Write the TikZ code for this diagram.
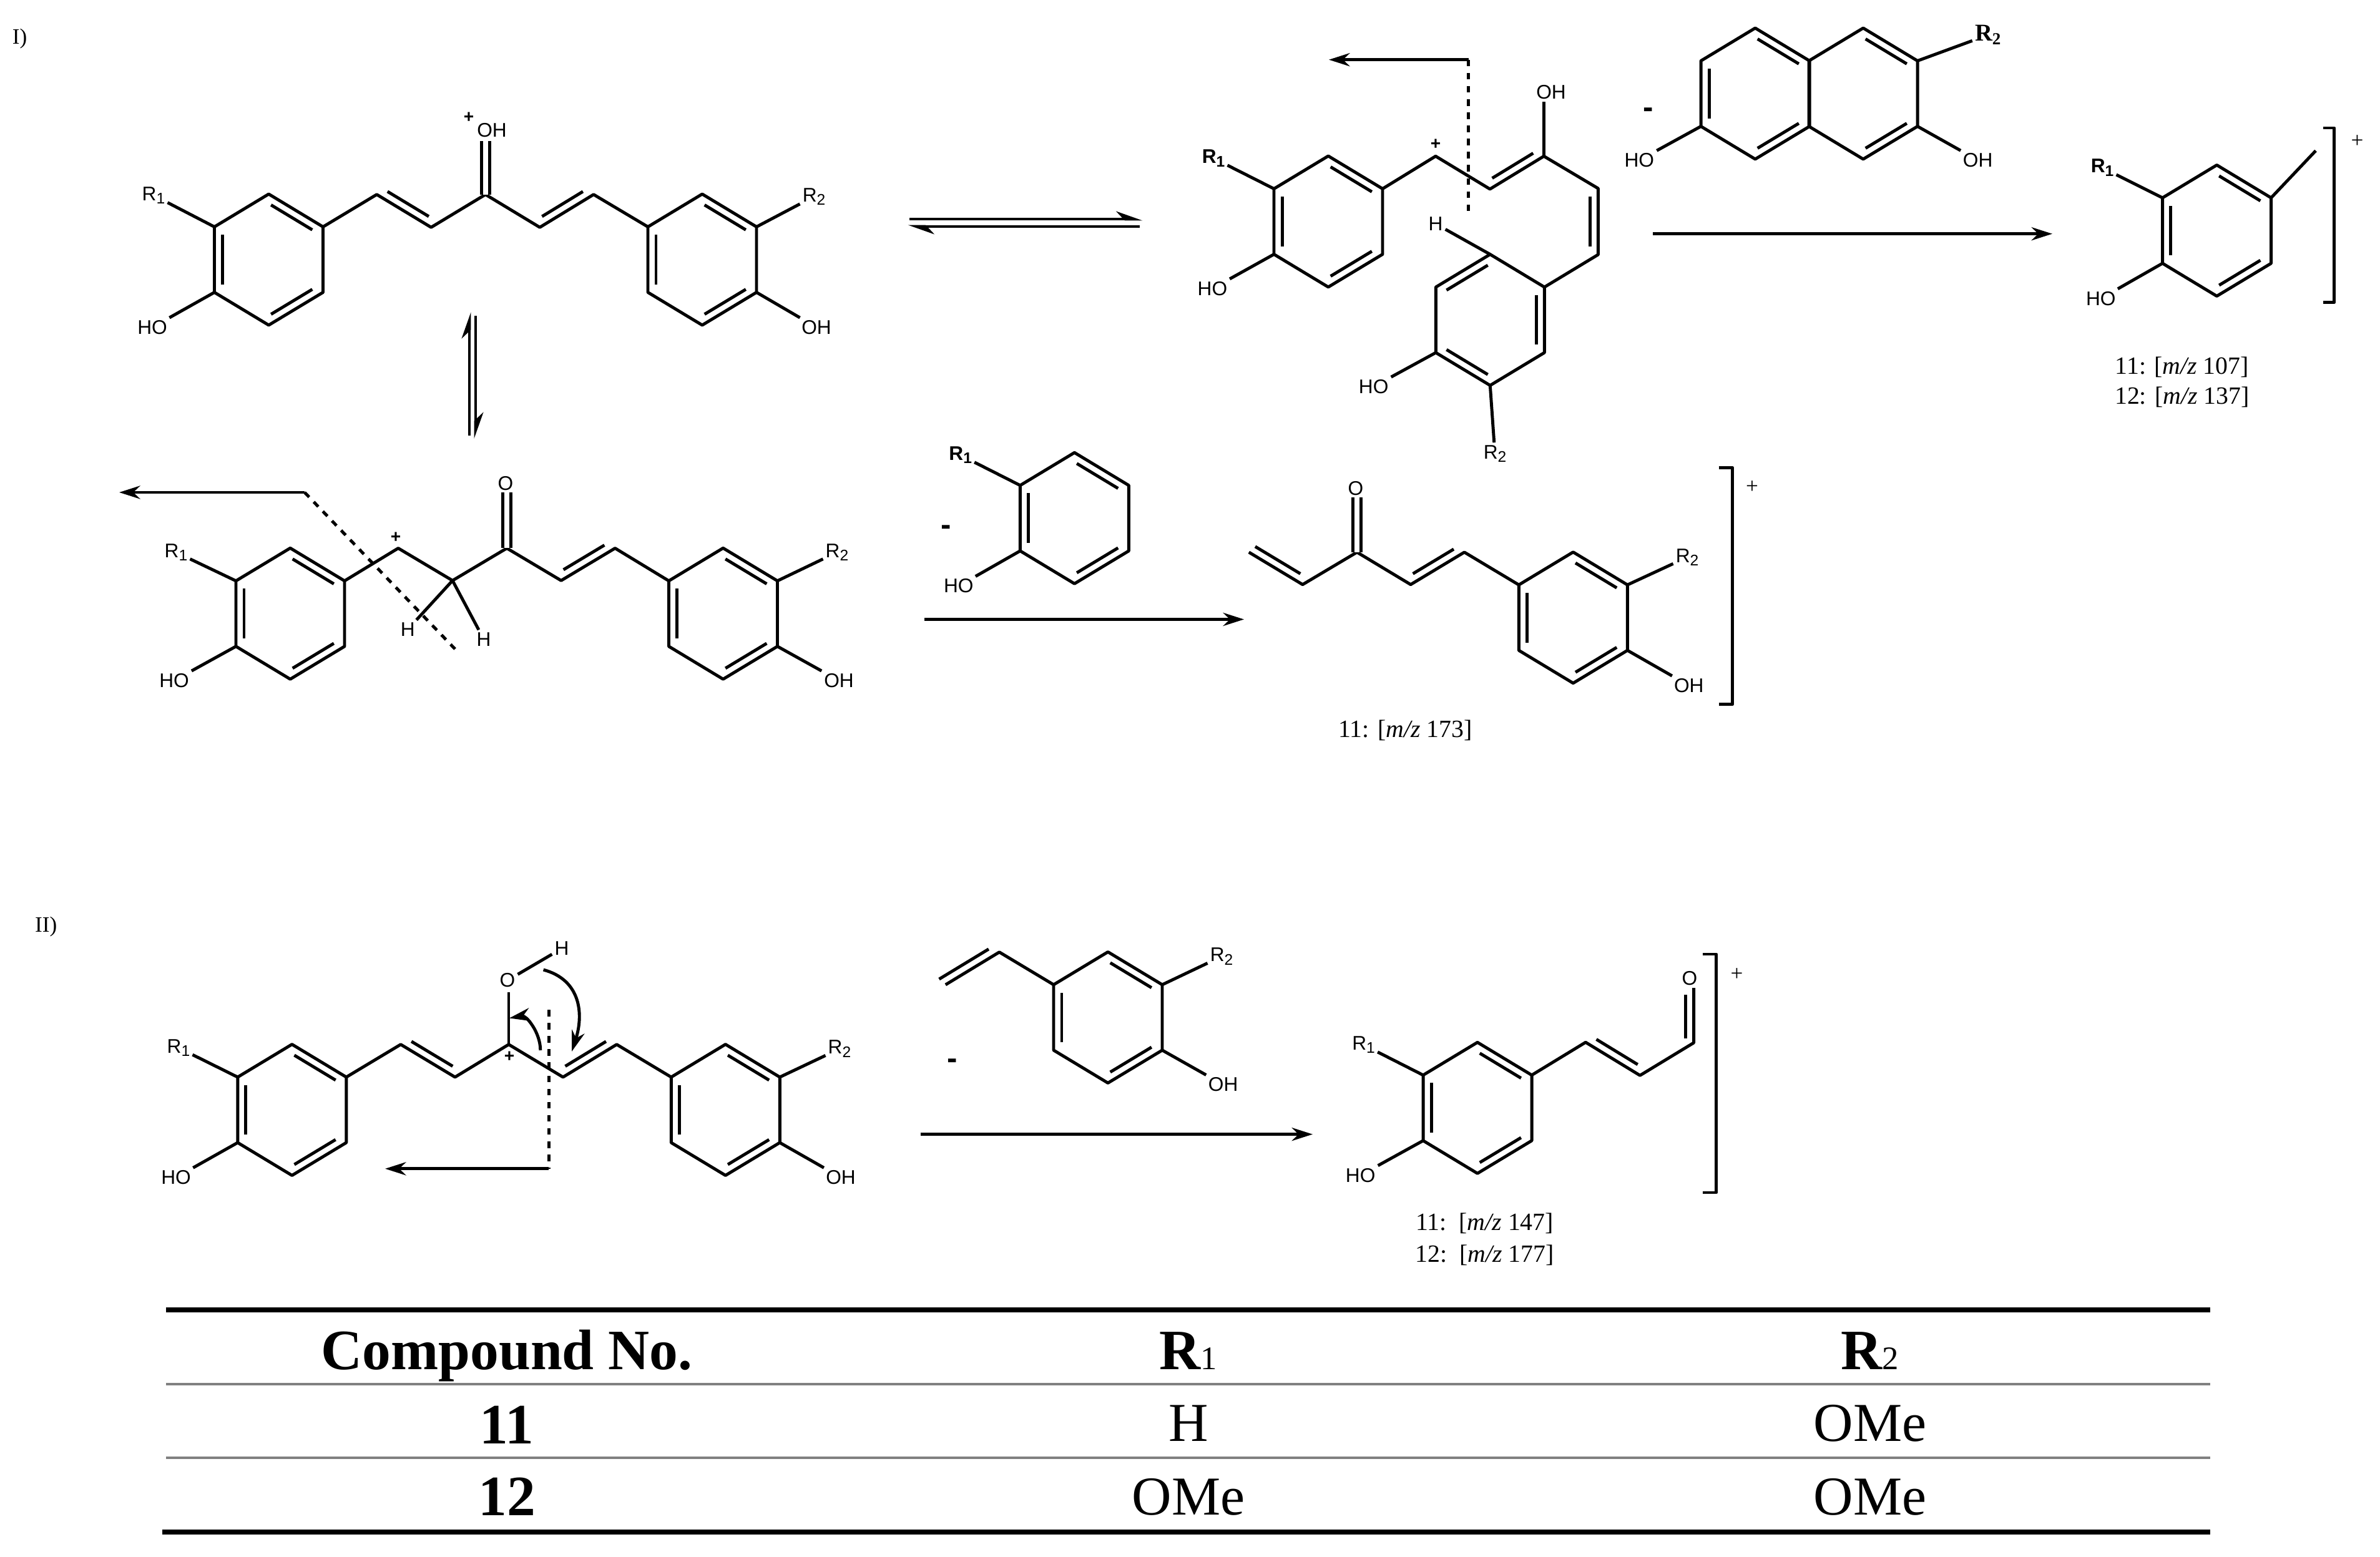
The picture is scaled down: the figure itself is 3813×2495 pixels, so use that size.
\documentclass[tikz,border=0pt]{standalone}
\usepackage{fontspec}
\setmainfont{Liberation Serif}
\setsansfont{Liberation Sans}
\usetikzlibrary{calc,arrows.meta}

\newcommand{\dbl}[4][.12]{\draw[bond] ($(#2)!#1!(#3)!#4!90:(#3)$) -- ($(#2)!.88!(#3)!#4!90:(#3)$);}
\newcommand{\ring}[4][1/2,3/4,5/6]{%
  \coordinate (#21) at (#3,#4-105);
  \coordinate (#22) at (#3+87,#4-52.5);
  \coordinate (#23) at (#3+87,#4+52.5);
  \coordinate (#24) at (#3,#4+105);
  \coordinate (#25) at (#3-87,#4+52.5);
  \coordinate (#26) at (#3-87,#4-52.5);
  \draw[bond] (#21) -- (#22) -- (#23) -- (#24) -- (#25) -- (#26) -- cycle;
  \foreach \p/\q in {#1} {\dbl{#2\p}{#2\q}{-.13cm}}
}
\newcommand{\rsub}[1]{R\raisebox{-.32ex}{\fontsize{7}{7}\selectfont #1}}

\begin{document}
\begin{tikzpicture}[x=0.01cm,y=-0.01cm]

%
% Styles
%
\tikzstyle{bond}   = [line width=1.4pt,line join=round]
\tikzstyle{cobond} = [double,double distance=2.3pt,line width=1.4pt]
\tikzstyle{cut}    = [line width=1.4pt,dashed]
\tikzstyle{edge}   = [->,>={Stealth[length=9.5pt,width=6pt]},line width=1.4pt]
\tikzstyle{eqm}    = [-{Stealth[harpoon,length=10pt,width=7pt]},line width=1.4pt]
\tikzstyle{atom}   = [font=\sffamily\fontsize{9}{10}\selectfont,inner sep=1pt]
\tikzstyle{ratom}  = [font=\sffamily\bfseries\fontsize{9}{10}\selectfont,inner sep=1pt]
\tikzstyle{charge} = [font=\sffamily\bfseries\fontsize{8}{10}\selectfont,inner sep=0pt]
\tikzstyle{minus}  = [font=\sffamily\bfseries\fontsize{14}{14}\selectfont,inner sep=0pt]
\tikzstyle{plain}  = [font=\fontsize{10}{10}\selectfont,inner sep=0pt]
\tikzstyle{mz}     = [font=\fontsize{11.3}{12}\selectfont,inner sep=0pt]
\tikzstyle{head}   = [font=\bfseries\fontsize{26}{27}\selectfont,inner sep=0pt]
\tikzstyle{cell}   = [font=\fontsize{25}{26}\selectfont,inner sep=0pt]

\useasboundingbox (0,0) rectangle (3813,2495);

\node[plain] (schemeI)  at (31.6,62)  {I)};
\node[plain] (schemeII) at (73.7,1485) {II)};

%
% Scheme I, protonated molecule
%
\ring{a}{430.5}{416}
\ring{b}{1125}{416}
\coordinate (ca1) at (603.6,311.7);
\coordinate (ca2) at (690.7,364.3);
\coordinate (ca3) at (777.8,311.7);
\coordinate (ca4) at (864.8,364.3);
\coordinate (ca5) at (951,311.7);
\coordinate (ca6) at (777.8,225.6);
\draw[bond] (a2) -- (ca1) -- (ca2) -- (ca3) -- (ca4) -- (ca5) -- (b6);
\dbl{ca1}{ca2}{.13cm}
\dbl{ca4}{ca5}{.13cm}
\draw[cobond] (ca3) -- (ca6);
\node[atom]   (oha)  at (788,209)   {OH};
\node[charge] (posa) at (751,188)   {+};
\node[atom]   (r1a)  at (246,313)   {\rsub{1}};
\node[atom]   (hoa)  at (244,524.5) {HO};
\node[atom]   (r2b)  at (1304,315)  {\rsub{2}};
\node[atom]   (ohb)  at (1308,524.5) {OH};
\draw[bond] (a6) -- (r1a);
\draw[bond] (a5) -- (hoa);
\draw[bond] (b2) -- (r2b);
\draw[bond] (b3) -- (ohb);

%
% Equilibria
%
\coordinate (eqa) at (752,698);
\coordinate (eqb) at (752,500);
\coordinate (eqc) at (762,506);
\coordinate (eqd) at (762,703);
\draw[eqm] (eqa) -- (eqb);
\draw[eqm] (eqc) -- (eqd);
\coordinate (eqe) at (1457,351);
\coordinate (eqf) at (1830.5,351);
\coordinate (eqg) at (1826,363);
\coordinate (eqh) at (1454.5,363);
\draw[eqm] (eqe) -- (eqf);
\draw[eqm] (eqg) -- (eqh);

%
% Scheme I, lower cation
%
\ring{c}{465}{983.3}
\ring{d}{1158.5}{983.3}
\coordinate (cc1) at (638,878.5);
\coordinate (cc2) at (725,930.3);
\coordinate (cc3) at (812,878.5);
\coordinate (cc4) at (899,930.3);
\coordinate (cc5) at (985.4,878.5);
\coordinate (cc6) at (812,789);
\draw[bond] (c2) -- (cc1) -- (cc2) -- (cc3) -- (cc4) -- (cc5) -- (d6);
\dbl{cc4}{cc5}{.13cm}
\draw[cobond] (cc3) -- (cc6);
\node[atom]   (oc)   at (810,775)    {O};
\node[charge] (posc) at (634,861)    {+};
\node[atom]   (hc)   at (653.4,1008.5) {H};
\node[atom]   (hd)   at (775,1024.4) {H};
\node[atom]   (r1c)  at (282,885)    {\rsub{1}};
\node[atom]   (hoc)  at (279,1090.5) {HO};
\node[atom]   (r2d)  at (1341,885)   {\rsub{2}};
\node[atom]   (ohd)  at (1344,1090.5) {OH};
\draw[bond] (c6) -- (r1c);
\draw[bond] (c5) -- (hoc);
\draw[bond] (d2) -- (r2d);
\draw[bond] (d3) -- (ohd);
\draw[bond] (cc2) -- (hc);
\draw[bond] (cc2) -- (hd);
\coordinate (cuta) at (488,789);
\coordinate (cutb) at (729,1040);
\coordinate (cutc) at (191,789);
\draw[cut] (cuta) -- (cutb);
\draw[edge] (cuta) -- (cutc);

%
% Scheme I, upper right cation
%
\ring{e}{2128}{355}
\ring[6/1,2/3,4/5]{f}{2387.3}{512.6}
\coordinate (ce1) at (2300,250.3);
\coordinate (ce2) at (2387,303);
\coordinate (ce3) at (2473.4,250.3);
\coordinate (ce4) at (2560.4,302);
\coordinate (ce5) at (2560.4,408);
\coordinate (ce6) at (2473.4,163.4);
\draw[bond] (e2) -- (ce1) -- (ce2) -- (ce3) -- (ce4) -- (ce5) -- (f2);
\draw[bond] (ce3) -- (ce6);
\dbl{ce2}{ce3}{.13cm}
\dbl{ce4}{ce5}{-.13cm}
\node[atom]   (ohe)  at (2485,147.5)  {OH};
\node[charge] (pose) at (2300,231)    {+};
\node[atom]   (hf)   at (2300,358.7)  {H};
\node[ratom]  (r1e)  at (1944,253.5)  {\rsub{1}};
\node[atom]   (hoe)  at (1942.4,462.4) {HO};
\node[atom]   (r2f)  at (2395,727)    {\rsub{2}};
\node[atom]   (hof)  at (2200.7,619.4) {HO};
\draw[bond] (e6) -- (r1e);
\draw[bond] (e5) -- (hoe);
\draw[bond] (f1) -- (hf);
\draw[bond] (f4) -- (r2f);
\draw[bond] (f5) -- (hof);
\coordinate (cutd) at (2352.8,95.7);
\coordinate (cute) at (2352.8,346.8);
\coordinate (cutf) at (2129,95.7);
\draw[cut] (cutd) -- (cute);
\draw[edge] (cutd) -- (cutf);

%
% Neutral loss and ion at m/z 107, 137
%
\ring{m}{2812}{150}
\ring[1/2,3/4]{n}{2985}{150}
\node[minus] (minusn) at (2641,181) {-};
\node[atom]  (hom)  at (2626.3,256.7) {HO};
\node[atom]  (ohn)  at (3168.6,256.7) {OH};
\node[ratom,font=\bfseries\fontsize{11}{12}\selectfont] (r2n) at (3185.6,55.8) {R\textsubscript{2}};
\draw[bond] (m5) -- (hom);
\draw[bond] (n3) -- (ohn);
\draw[bond] (n2) -- (r2n);
\coordinate (rxa) at (2648,374.7);
\coordinate (rxb) at (3288,374.7);
\draw[edge] (rxa) -- (rxb);

\ring{g}{3551.5}{369.5}
\coordinate (meg) at (3710,241.5);
\draw[bond] (g2) -- (meg);
\node[ratom] (r1g) at (3368,268.7) {\rsub{1}};
\node[atom]  (hog) at (3365.8,478.3) {HO};
\draw[bond] (g6) -- (r1g);
\draw[bond] (g5) -- (hog);
\coordinate (bga) at (3721.7,205);
\coordinate (bgb) at (3739.5,205);
\coordinate (bgc) at (3739.5,484.7);
\coordinate (bgd) at (3721.7,484.7);
\draw[bond] (bga) -- (bgb) -- (bgc) -- (bgd);
\node[plain] (posg) at (3776.6,226.4) {+};
\node[mz] (mza) at (3495.8,588) {11: [\textit{m/z} 107]};
\node[mz] (mzb) at (3495.8,636) {12: [\textit{m/z} 137]};

%
% Neutral loss and ion at m/z 173
%
\ring{p}{1721.4}{830.3}
\node[minus] (minusp) at (1515.8,850) {-};
\node[ratom] (r1p) at (1538.7,729.4) {\rsub{1}};
\node[atom]  (hop) at (1535.8,939) {HO};
\draw[bond] (p6) -- (r1p);
\draw[bond] (p5) -- (hop);
\coordinate (rxc) at (1481.3,992.5);
\coordinate (rxd) at (1993,992.5);
\draw[edge] (rxc) -- (rxd);

\ring{q}{2520.3}{989.7}
\coordinate (cq1) at (2000.8,884.9);
\coordinate (cq2) at (2086.9,936.7);
\coordinate (cq3) at (2174,884.9);
\coordinate (cq4) at (2260,936.7);
\coordinate (cq5) at (2346,884.9);
\coordinate (cq6) at (2174,797);
\draw[bond] (cq1) -- (cq2) -- (cq3) -- (cq4) -- (cq5) -- (q6);
\dbl[.04]{cq1}{cq2}{.13cm}
\dbl{cq4}{cq5}{.13cm}
\draw[cobond] (cq3) -- (cq6);
\node[atom] (oq)  at (2172,782.8) {O};
\node[atom] (r2q) at (2703,892.9) {\rsub{2}};
\node[atom] (ohq) at (2705.8,1098.5) {OH};
\draw[bond] (q2) -- (r2q);
\draw[bond] (q3) -- (ohq);
\coordinate (bqa) at (2753.7,749.4);
\coordinate (bqb) at (2775.7,749.4);
\coordinate (bqc) at (2775.7,1128.8);
\coordinate (bqd) at (2753.7,1128.8);
\draw[bond] (bqa) -- (bqb) -- (bqc) -- (bqd);
\node[plain] (posq) at (2807,780.4) {+};
\node[mz] (mzc) at (2251.4,1170.3) {11: [\textit{m/z} 173]};

%
% Scheme II
%
\ring{h}{467.8}{1778.5}
\ring{i}{1162.3}{1778.5}
\coordinate (ch1) at (642,1673.7);
\coordinate (ch2) at (729,1726);
\coordinate (ch3) at (815,1673.7);
\coordinate (ch4) at (902,1726);
\coordinate (ch5) at (988,1673.7);
\coordinate (ch6) at (815,1590);
\draw[bond] (h2) -- (ch1) -- (ch2) -- (ch3) -- (ch4) -- (ch5) -- (i6);
\draw[bond] (ch3) -- (ch6);
\dbl{ch1}{ch2}{.13cm}
\dbl{ch4}{ch5}{.13cm}
\node[atom]   (oh)   at (813,1571)  {O};
\node[atom]   (hh)   at (900,1520)  {H};
\node[charge] (posh) at (816,1693)  {+};
\node[atom]   (r1h)  at (286,1679)  {\rsub{1}};
\node[atom]   (hoh)  at (282,1886.7) {HO};
\node[atom]   (r2i)  at (1345,1680.7) {\rsub{2}};
\node[atom]   (ohi)  at (1347,1886.7) {OH};
\draw[bond] (oh) -- (hh);
\draw[bond] (h6) -- (r1h);
\draw[bond] (h5) -- (hoh);
\draw[bond] (i2) -- (r2i);
\draw[bond] (i3) -- (ohi);
\coordinate (cva) at (865.8,1683);
\coordinate (cvb) at (816,1631.5);
\coordinate (cvc) at (870.6,1554);
\coordinate (cvd) at (916,1685);
\draw[edge] (cva) to [out=90,in=10] (cvb);
\draw[edge] (cvc) to [out=-15,in=72,looseness=1.15] (cvd);
\coordinate (cutg) at (879.2,1618);
\coordinate (cuth) at (879.2,1872.8);
\coordinate (cuti) at (617,1872.8);
\draw[cut] (cutg) -- (cuth);
\draw[edge] (cuth) -- (cuti);

\ring{j}{1775}{1630.4}
\coordinate (cj1) at (1514.8,1578);
\coordinate (cj2) at (1601,1525.7);
\draw[bond] (cj1) -- (cj2) -- (j6);
\dbl[-.04]{cj1}{cj2}{.13cm}
\node[minus] (minusj) at (1525.3,1705) {-};
\node[atom]  (r2j) at (1957,1532.7) {\rsub{2}};
\node[atom]  (ohj) at (1959.6,1738) {OH};
\draw[bond] (j2) -- (r2j);
\draw[bond] (j3) -- (ohj);
\coordinate (rxe) at (1474.6,1817.6);
\coordinate (rxf) at (2103,1817.6);
\draw[edge] (rxe) -- (rxf);

\ring{k}{2367}{1775.3}
\coordinate (ck1) at (2540.3,1670.2);
\coordinate (ck2) at (2627.4,1723.3);
\coordinate (ck3) at (2713.5,1671);
\coordinate (ck4) at (2713.5,1583);
\draw[bond] (k2) -- (ck1) -- (ck2) -- (ck3) -- (ck4);
\dbl{ck1}{ck2}{.13cm}
\dbl[.08]{ck3}{ck4}{.13cm}
\node[atom] (ok)  at (2706.8,1567.6) {O};
\node[atom] (r1k) at (2184.6,1674.4) {\rsub{1}};
\node[atom] (hok) at (2179.7,1883.2) {HO};
\draw[bond] (k6) -- (r1k);
\draw[bond] (k5) -- (hok);
\coordinate (bka) at (2727.8,1529);
\coordinate (bkb) at (2749.8,1529);
\coordinate (bkc) at (2749.8,1911);
\coordinate (bkd) at (2727.8,1911);
\draw[bond] (bka) -- (bkb) -- (bkc) -- (bkd);
\node[plain] (posk) at (2782.4,1562) {+};
\node[mz] (mzd) at (2378.7,1960.8) {11:\ \ [\textit{m/z} 147]};
\node[mz] (mze) at (2378.7,2011)   {12:\ \ [\textit{m/z} 177]};

%
% Table
%
\coordinate (rula) at (266,2099);
\coordinate (rulb) at (3541,2099);
\coordinate (rulc) at (266,2218.4);
\coordinate (ruld) at (3541,2218.4);
\coordinate (rule) at (266,2335.7);
\coordinate (rulf) at (3541,2335.7);
\coordinate (rulg) at (260,2455);
\coordinate (rulh) at (3541,2455);
\draw[line width=2.4pt] (rula) -- (rulb);
\draw[line width=1.15pt,draw=gray] (rulc) -- (ruld);
\draw[line width=1.15pt,draw=gray] (rule) -- (rulf);
\draw[line width=2.4pt] (rulg) -- (rulh);

\node[head] (hcomp) at (812,2172)    {Compound No.};
\node[head] (hrone) at (1904,2164.7) {R{\fontsize{15}{15}\selectfont\mdseries 1}};
\node[head] (hrtwo) at (2996,2164.7) {R{\fontsize{15}{15}\selectfont\mdseries 2}};
\node[head] (none)  at (812,2283)    {11};
\node[cell] (rone)  at (1904,2281)   {H};
\node[cell] (rtwo)  at (2996,2281)   {OMe};
\node[head] (ntwo)  at (812,2398.6)  {12};
\node[cell] (rthr)  at (1904,2398.6) {OMe};
\node[cell] (rfou)  at (2996,2398.6) {OMe};

\end{tikzpicture}
\end{document}
